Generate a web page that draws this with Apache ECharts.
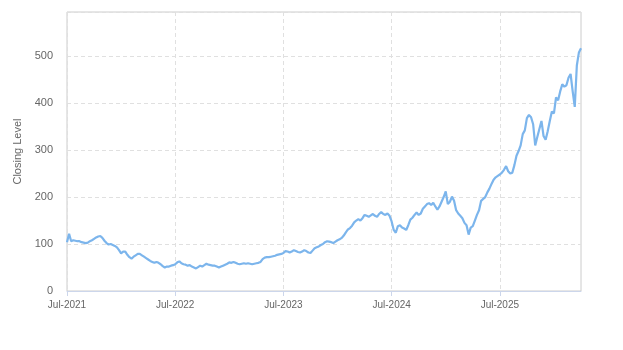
<!DOCTYPE html>
<html>
<head>
<meta charset="utf-8">
<script src="https://cdn.jsdelivr.net/npm/echarts@6/dist/echarts.min.js"></script>
<style>
html,body{margin:0;padding:0;background:#fff;}
#chart{width:623px;height:350px;}
</style>
</head>
<body>
<div id="chart"></div>
<script>
// Weekly closing levels starting 2021-07-01
var startDate = '2021-07-01';
var closingLevel = [
104,122,106,108,107,106,106,104,103,102,103,106,108,111,114,116,117,113,107,102,
99,100,98,96,93,87,80,84,84,77,72,69,73,76,79,79,76,73,70,67,
64,62,60,62,60,57,53,50,52,52,54,55,57,61,63,59,57,56,54,55,
52,50,48,51,54,52,55,58,56,55,54,54,52,50,52,54,56,58,61,60,
62,60,58,57,58,59,58,59,58,57,58,59,60,62,68,71,72,72,73,74,
75,77,78,79,81,85,84,82,84,87,85,83,82,84,87,85,82,81,86,91,
93,95,98,100,104,106,105,104,102,105,108,110,113,118,125,131,134,139,146,150,
153,150,155,162,160,158,161,164,160,158,164,168,164,162,165,160,148,130,124,138,
140,135,133,130,140,152,156,162,167,162,165,175,180,185,187,183,188,180,173,180,
190,200,212,185,190,201,192,172,165,160,155,145,140,120,135,138,150,162,172,192,
196,200,210,218,228,237,242,245,248,252,258,266,255,250,252,268,288,298,310,334,
342,368,375,370,355,310,328,345,362,330,322,340,362,382,378,412,406,425,440,435,
438,454,462,425,392,480,508,517
];
var yTicks = [0, 100, 200, 300, 400, 500];
var xLabelMonth = 'Jul';

var MS_DAY = 86400000;
var t0 = Date.parse(startDate + 'T00:00:00Z');
var categories = [];
for (var i = 0; i < closingLevel.length; i++) {
  var d = new Date(t0 + i * 7 * MS_DAY);
  categories.push(d.toISOString().slice(0, 10));
}
// label index for each July: last weekly date on or before Jul 1
var labelIdx = {};
for (var y = 2021; y <= 2025; y++) {
  var target = y + '-07-01';
  var best = -1;
  for (var k = 0; k < categories.length; k++) {
    if (categories[k] <= target) best = k;
  }
  if (best >= 0) labelIdx[best] = xLabelMonth + '-' + y;
}

var chart = echarts.init(document.getElementById('chart'), null, {renderer: 'canvas'});
chart.setOption({
  animation: false,
  backgroundColor: '#ffffff',
  grid: {
    left: 67, right: 42, top: 12, bottom: 59,
    show: true, borderColor: '#cccccc', borderWidth: 1, backgroundColor: 'transparent'
  },
  xAxis: {
    type: 'category',
    data: categories,
    boundaryGap: false,
    axisLine: {lineStyle: {color: '#ccd6eb', width: 1}},
    axisTick: {show: true, length: 5, lineStyle: {color: '#ccd6eb'}},
    axisLabel: {
      interval: function (index) { return labelIdx[index] !== undefined; },
      formatter: function (v, index) { return labelIdx[index] || ''; },
      color: '#666666', fontSize: 10, fontFamily: 'Liberation Sans, Arial, sans-serif', margin: 9
    },
    splitLine: {show: true, lineStyle: {color: '#e0e0e0', type: [4, 3], width: 1}}
  },
  yAxis: {
    type: 'value',
    min: 0, max: 594, interval: 100,
    name: 'Closing Level',
    nameLocation: 'middle',
    nameRotate: 90,
    nameGap: 38,
    nameTextStyle: {color: '#666666', fontSize: 11, fontFamily: 'Liberation Sans, Arial, sans-serif'},
    axisLine: {show: false},
    axisTick: {show: false},
    axisLabel: {
      color: '#666666', fontSize: 11, fontFamily: 'Liberation Sans, Arial, sans-serif', margin: 14,
      showMaxLabel: false,
      formatter: function (v) { return yTicks.indexOf(v) >= 0 ? String(v) : ''; }
    },
    splitLine: {show: true, lineStyle: {color: '#e0e0e0', type: [4, 3], width: 1}}
  },
  series: [{
    type: 'line',
    data: closingLevel,
    showSymbol: false,
    symbol: 'none',
    lineStyle: {color: '#7cb5ec', width: 2.2},
    itemStyle: {color: '#7cb5ec'}
  }]
});
</script>
</body>
</html>
